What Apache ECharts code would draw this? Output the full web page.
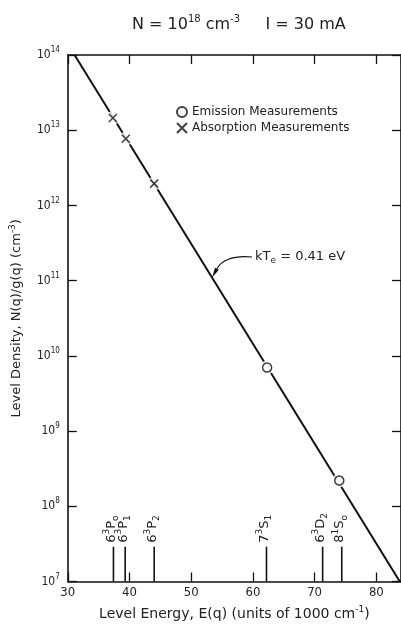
<!DOCTYPE html>
<html>
<head>
<meta charset="utf-8">
<script src="https://cdn.jsdelivr.net/npm/echarts@6/dist/echarts.min.js"></script>
<style>
  html, body { margin: 0; padding: 0; background: #fff; }
  #chart { width: 401px; height: 629px; }
</style>
</head>
<body>
<div id="chart"></div>
<script>
// fitted line kTe = 0.41 eV (end points)
var fitE = [31.1, 83.8];
var fitN = [1e14, 1e7];
// measurements
var emiE = [62.3, 74.0];
var emiN = [7.0e9, 2.2e8];
var absE = [37.3, 39.4, 44.0];
var absN = [1.45e13, 7.7e12, 1.95e12];
// energy levels marked at the bottom
var levelE = [37.4, 39.3, 44.0, 62.2, 71.3, 74.4];
var levelNum = ['6', '6', '6', '7', '6', '8'];
var levelMult = ['3', '3', '3', '3', '3', '1'];
var levelL = ['P', 'P', 'P', 'S', 'D', 'S'];
var levelJ = ['o', '1', '2', '1', '2', 'o'];
var levelTop = 2.9e7;
// annotation anchor on the line
var annoE = 53.4;
var annoN = 1.1e11;

var FONT = 'DejaVu Sans';
var NARROW = '"Liberation Sans Narrow", "DejaVu Sans Condensed", "Liberation Sans"';

var chart = echarts.init(document.getElementById('chart'));

function pairs(xs, ys) {
    return xs.map(function (x, i) { return [x, ys[i]]; });
}

var axisCommon = {
    axisLine: { show: true, lineStyle: { color: '#111', width: 1.6 } },
    axisTick: { show: true, inside: true, length: 9, lineStyle: { color: '#111', width: 1.3 } },
    splitLine: { show: false }
};

chart.setOption({
    animation: false,
    title: {
        left: 127,
        top: 12,
        text: '{t|N = 10}{s|18}{t| cm}{s|-3}{t|     I = 30 mA}',
        textStyle: {
            fontWeight: 'normal',
            rich: {
                t: { fontFamily: FONT, fontSize: 16, fontWeight: 'normal', color: '#222', lineHeight: 16 },
                s: { fontFamily: FONT, fontSize: 10, fontWeight: 'normal', color: '#222', lineHeight: 10, padding: [0, 0, 12, 0] }
            }
        }
    },
    legend: {
        left: 171,
        top: 101,
        orient: 'vertical',
        itemWidth: 10,
        itemHeight: 10,
        itemGap: 4,
        textStyle: { fontFamily: FONT, fontSize: 12, color: '#222' },
        data: ['Emission Measurements', 'Absorption Measurements']
    },
    grid: { left: 65, top: 55, right: -3, bottom: 42 },
    xAxis: [
        Object.assign({}, axisCommon, {
            type: 'value', min: 30, max: 84, interval: 10, position: 'bottom',
            axisLabel: { margin: 5, fontFamily: NARROW, fontSize: 13, color: '#222', showMaxLabel: false },
            name: '{t|Level Energy, E(q) (units of 1000 cm}{s|-1}{t|)}',
            nameLocation: 'middle',
            nameGap: 26,
            nameTextStyle: {
                rich: {
                    t: { fontFamily: FONT, fontSize: 14, color: '#222', lineHeight: 14 },
                    s: { fontFamily: FONT, fontSize: 9, color: '#222', lineHeight: 9, padding: [0, 0, 10, 0] }
                }
            }
        }),
        Object.assign({}, axisCommon, {
            type: 'value', min: 30, max: 84, interval: 10, position: 'top',
            axisLabel: { show: false }
        })
    ],
    yAxis: [
        Object.assign({}, axisCommon, {
            type: 'log', logBase: 10, min: 1e7, max: 1e14, splitNumber: 7, position: 'left',
            axisLabel: {
                margin: 8,
                formatter: function (v) {
                    return '{b|10}{s|' + Math.round(Math.log10(v)) + '}';
                },
                rich: {
                    b: { fontFamily: NARROW, fontSize: 12, color: '#222', lineHeight: 12 },
                    s: { fontFamily: NARROW, fontSize: 8, color: '#222', lineHeight: 8, padding: [0, 0, 10, 0] }
                }
            },
            name: '{t|Level Density, N(q)/g(q) (cm}{s|-3}{t|)}',
            nameLocation: 'middle',
            nameRotate: 90,
            nameGap: 34,
            nameTextStyle: {
                rich: {
                    t: { fontFamily: FONT, fontSize: 13, color: '#222', lineHeight: 13 },
                    s: { fontFamily: FONT, fontSize: 9, color: '#222', lineHeight: 9, padding: [0, 0, 9, 0] }
                }
            }
        }),
        Object.assign({}, axisCommon, {
            type: 'log', logBase: 10, min: 1e7, max: 1e14, splitNumber: 7, position: 'right',
            axisLabel: { show: false }
        })
    ],
    series: [
        {
            name: 'fit',
            type: 'line',
            data: pairs(fitE, fitN),
            symbol: 'none',
            lineStyle: { color: '#111', width: 2 },
            z: 2
        },
        {
            // white gaps in the line around each measurement
            name: 'halo',
            type: 'scatter',
            data: pairs(emiE, emiN).concat(pairs(absE, absN)),
            symbol: 'circle',
            symbolSize: 14,
            itemStyle: { color: '#fff' },
            silent: true,
            z: 3
        },
        {
            name: 'Emission Measurements',
            type: 'scatter',
            data: pairs(emiE, emiN),
            symbol: 'circle',
            symbolSize: 9,
            itemStyle: { color: '#fff', borderColor: '#111', borderWidth: 1.5 },
            z: 4
        },
        {
            name: 'Absorption Measurements',
            type: 'scatter',
            data: pairs(absE, absN),
            symbol: 'path://M0,0L10,10M10,0L0,10',
            symbolSize: 8,
            itemStyle: { color: '#111', borderColor: '#111', borderWidth: 1.5 },
            z: 4
        },
        {
            name: 'levels',
            type: 'custom',
            data: levelE.map(function (e) { return [e, levelTop]; }),
            renderItem: function (params, api) {
                var i = params.dataIndex;
                var p0 = api.coord([api.value(0), 1e7]);
                var p1 = api.coord([api.value(0), api.value(1)]);
                return {
                    type: 'group',
                    children: [
                        {
                            type: 'line',
                            shape: { x1: p0[0], y1: p0[1], x2: p1[0], y2: p1[1] },
                            style: { stroke: '#111', lineWidth: 1.6 }
                        },
                        {
                            type: 'text',
                            x: p1[0] - 2,
                            y: p1[1] - 4,
                            rotation: Math.PI / 2,
                            style: {
                                text: '{n|' + levelNum[i] + '}{sp|' + levelMult[i] + '}{n|' + levelL[i] + '}{sb|' + levelJ[i] + '}',
                                align: 'left',
                                verticalAlign: 'middle',
                                rich: {
                                    n: { fontFamily: FONT, fontSize: 13, fill: '#222', lineHeight: 13 },
                                    sp: { fontFamily: FONT, fontSize: 9, fill: '#222', lineHeight: 9, padding: [0, 0, 9, 0] },
                                    sb: { fontFamily: FONT, fontSize: 9, fill: '#222', lineHeight: 9, padding: [9, 0, 0, 0] }
                                }
                            }
                        }
                    ]
                };
            },
            z: 3
        }
    ]
});

// kTe annotation with curved arrow pointing at the line
var a = chart.convertToPixel({ xAxisIndex: 0, yAxisIndex: 0 }, [annoE, annoN]);
var sx = 252, sy = 257;
var c1 = [232, 255], c2 = [221, 261];
var dx = a[0] - c2[0], dy = a[1] - c2[1];
var len = Math.sqrt(dx * dx + dy * dy);
dx /= len; dy /= len;
var bx = a[0] - dx * 10, by = a[1] - dy * 10;
chart.setOption({
    graphic: [
        {
            type: 'bezierCurve',
            shape: { x1: sx, y1: sy, cpx1: c1[0], cpy1: c1[1], cpx2: c2[0], cpy2: c2[1], x2: bx, y2: by },
            style: { stroke: '#111', lineWidth: 1.2, fill: null }
        },
        {
            type: 'polygon',
            shape: { points: [[a[0], a[1]], [bx - dy * 2.2, by + dx * 2.2], [bx + dy * 2.2, by - dx * 2.2]] },
            style: { fill: '#111' }
        },
        {
            type: 'text',
            x: 255,
            y: 257,
            style: {
                text: '{t|kT}{sb|e}{t| = 0.41 eV}',
                verticalAlign: 'middle',
                rich: {
                    t: { fontFamily: FONT, fontSize: 13, fill: '#222', lineHeight: 13 },
                    sb: { fontFamily: FONT, fontSize: 9, fill: '#222', lineHeight: 9, padding: [8, 0, 0, 0] }
                }
            }
        }
    ]
});
</script>
</body>
</html>
